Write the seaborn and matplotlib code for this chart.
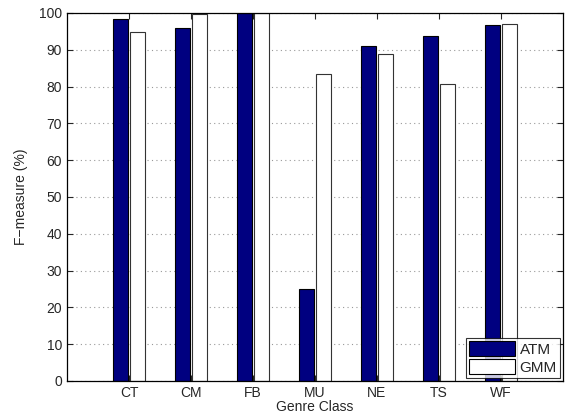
import pandas as pd
import matplotlib
matplotlib.use('Agg')
import matplotlib.pyplot as plt
import seaborn as sns

# values
genres = ['CT', 'CM', 'FB', 'MU', 'NE', 'TS', 'WF']
atm = [98.3, 96.0, 100.0, 25.0, 90.9, 93.7, 96.7]
gmm = [94.8, 99.6, 100.0, 83.3, 88.9, 80.7, 97.1]

df = pd.DataFrame({
    'genre': genres * 2,
    'f': atm + gmm,
    'model': ['ATM'] * len(genres) + ['GMM'] * len(genres),
})

sns.set_style('ticks')
plt.rcParams['font.family'] = ['Liberation Sans', 'DejaVu Sans']

fig = plt.figure(figsize=(5.68, 4.19), dpi=100)
ax = fig.add_axes([0.118, 0.091, 0.873, 0.878])

sns.barplot(data=df, x='genre', y='f', hue='model', order=genres,
            palette={'ATM': '#000080', 'GMM': 'white'}, saturation=1,
            width=0.56, gap=0.16, edgecolor='black', linewidth=0.8, ax=ax)

for p in ax.patches[len(genres):2 * len(genres)]:
    p.set_edgecolor('#333333')

ax.set_xlim(-1, 7)
ax.set_ylim(0, 100)
ax.set_yticks(range(0, 101, 10))
ax.yaxis.grid(True, linestyle=(0, (1, 3)), color='#999999', linewidth=0.8)
ax.set_axisbelow(True)
ax.tick_params(direction='in', top=True, right=True, labelsize=10, length=4)
for s in ax.spines.values():
    s.set_linewidth(0.9)
    s.set_color('black')

ax.set_xlabel('Genre Class', fontsize=10, labelpad=0)
ax.set_ylabel('F\u2212measure (%)', fontsize=10, labelpad=8)

leg = ax.legend(loc='lower right', fontsize=11, frameon=True, fancybox=False,
                edgecolor='black', borderaxespad=0.2, handlelength=3.0,
                handleheight=1.1, handletextpad=0.3, borderpad=0.2,
                labelspacing=0.15)
leg.get_frame().set_linewidth(0.8)

fig.savefig('out.png', dpi=100)
